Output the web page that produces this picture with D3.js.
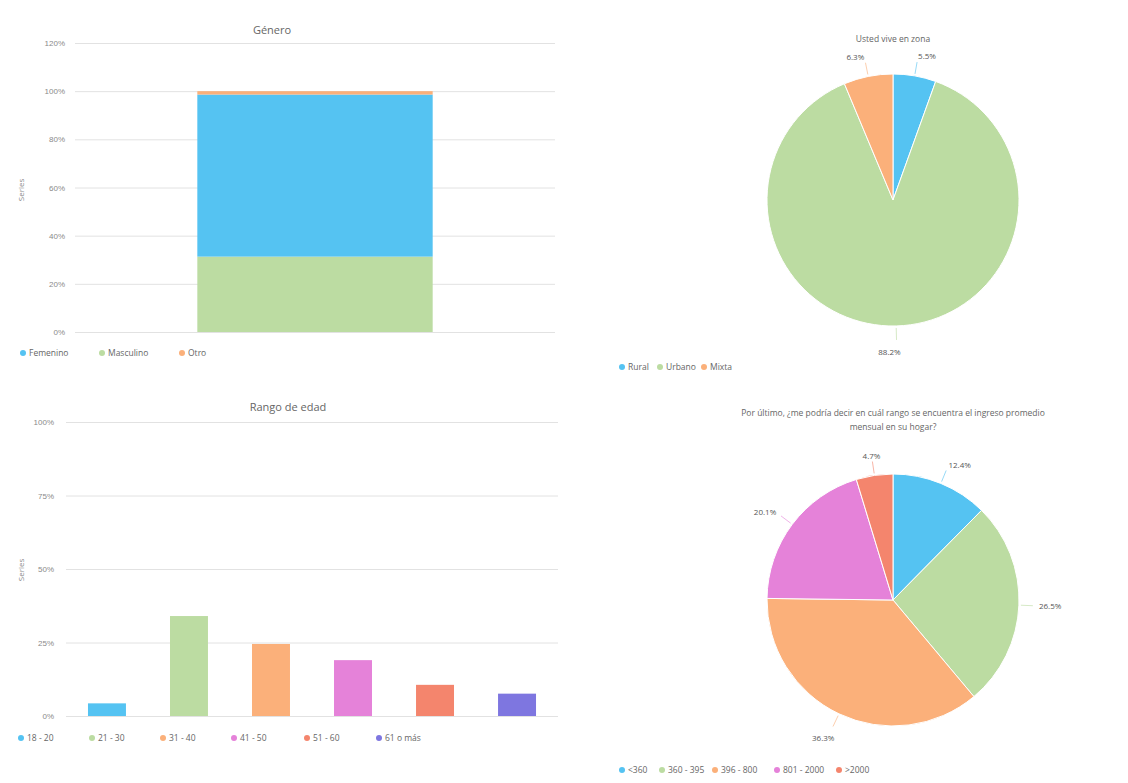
<!DOCTYPE html>
<html><head><meta charset="utf-8">
<script src="https://cdn.jsdelivr.net/npm/d3@7"></script>
<style>
html,body{margin:0;padding:0;background:#fff;}
svg{display:block;font-family:"Open Sans","Noto Sans",sans-serif;}
</style></head>
<body>
<svg id="c" width="1128" height="783"></svg>
<script>
// ---- data ----
const genderCategories = ["Género"];
const genderSeries = ["Femenino", "Masculino", "Otro"];
const genderValues = [0.673, 0.313, 0.014];
const genderTicks = [0, 0.2, 0.4, 0.6, 0.8, 1.0, 1.2];

const ageCategories = ["18 - 20", "21 - 30", "31 - 40", "41 - 50", "51 - 60", "61 o más"];
const ageValues = [0.043, 0.340, 0.245, 0.190, 0.106, 0.076];
const ageTicks = [0, 0.25, 0.5, 0.75, 1.0];

const zoneCategories = ["Rural", "Urbano", "Mixta"];
const zoneValues = [5.5, 88.2, 6.3];

const incomeCategories = ["<360", "360 - 395", "396 - 800", "801 - 2000", ">2000"];
const incomeValues = [12.4, 26.5, 36.3, 20.1, 4.7];

const palette = ["#55c3f2", "#bcdca2", "#fbb07a", "#e582d9", "#f4856d", "#7e76e0"];
const genderColors = {"Femenino": palette[0], "Masculino": palette[1], "Otro": palette[2]};

const svg = d3.select("#c");
const textCol = "#666", tickCol = "#8a8a8a", gridCol = "#e2e2e2";

function legend(g, items, colors, x0, y, gap) {
  let x = x0;
  items.forEach((it, i) => {
    const gi = g.append("g").attr("transform", `translate(${x},${y})`);
    gi.append("circle").attr("r", 3).attr("cx", 0).attr("cy", 0).attr("fill", colors[i]);
    const t = gi.append("text").attr("x", 6).attr("y", 3).attr("font-size", 8.5).attr("fill", textCol).text(it);
    x += (typeof gap === "number") ? gap : gap[i];
  });
}

// ---- Top-left: Género (stacked bar) ----
{
  const g = svg.append("g");
  const y = d3.scaleLinear().domain([0, 1.2]).range([332, 43]);
  const x = d3.scaleBand().domain(genderCategories).range([75, 555]).padding(0.342);
  g.append("text").attr("x", 272).attr("y", 34).attr("text-anchor", "middle")
    .attr("font-size", 11).attr("fill", textCol).text("Género");
  const ax = d3.axisLeft(y).tickValues(genderTicks).tickFormat(d3.format(".0%"))
    .tickSize(-480).tickPadding(10);
  const ag = g.append("g").attr("transform", "translate(75,0)").call(ax);
  ag.select(".domain").remove();
  ag.selectAll(".tick line").attr("stroke", gridCol);
  ag.selectAll(".tick text").attr("fill", tickCol).attr("font-size", 8);
  g.append("text").attr("transform", "translate(24,190) rotate(-90)").attr("text-anchor", "middle")
    .attr("font-size", 8).attr("fill", tickCol).text("Series");
  // stack: Masculino at bottom, then Femenino, then Otro
  const order = ["Masculino", "Femenino", "Otro"];
  const row = {cat: genderCategories[0]};
  genderSeries.forEach((s, i) => row[s] = genderValues[i]);
  const stack = d3.stack().keys(order)([row]);
  stack.forEach(layer => {
    g.append("rect")
      .attr("x", x(genderCategories[0]))
      .attr("width", x.bandwidth())
      .attr("y", y(layer[0][1]))
      .attr("height", y(layer[0][0]) - y(layer[0][1]))
      .attr("fill", genderColors[layer.key]);
  });
  legend(g, genderSeries, genderSeries.map(s => genderColors[s]), 23, 353, [79, 80, 60]);
}

// ---- Bottom-left: Rango de edad ----
{
  const g = svg.append("g");
  const y = d3.scaleLinear().domain([0, 1]).range([716, 422]);
  const x = d3.scaleBand().domain(ageCategories).range([66, 558]).paddingInner(0.537).paddingOuter(0.268);
  g.append("text").attr("x", 288).attr("y", 411).attr("text-anchor", "middle")
    .attr("font-size", 11).attr("fill", textCol).text("Rango de edad");
  const ax = d3.axisLeft(y).tickValues(ageTicks).tickFormat(d3.format(".0%"))
    .tickSize(-492).tickPadding(12);
  const ag = g.append("g").attr("transform", "translate(66,0)").call(ax);
  ag.select(".domain").remove();
  ag.selectAll(".tick line").attr("stroke", gridCol);
  ag.selectAll(".tick text").attr("fill", tickCol).attr("font-size", 8);
  g.append("text").attr("transform", "translate(24,570) rotate(-90)").attr("text-anchor", "middle")
    .attr("font-size", 8).attr("fill", tickCol).text("Series");
  g.selectAll("rect.bar").data(ageCategories).join("rect").attr("class", "bar")
    .attr("x", d => x(d)).attr("width", x.bandwidth())
    .attr("y", (d, i) => y(ageValues[i]))
    .attr("height", (d, i) => y(0) - y(ageValues[i]))
    .attr("fill", (d, i) => palette[i]);
  legend(g, ageCategories, palette, 21, 738, [71, 71, 71, 73, 72, 60]);
}

// ---- Pie helper ----
function pie(g, cx, cy, r, cats, vals, colors) {
  const arcs = d3.pie().sort(null).value(d => d)(vals);
  const arc = d3.arc().innerRadius(0).outerRadius(r);
  const pg = g.append("g").attr("transform", `translate(${cx},${cy})`);
  pg.selectAll("path").data(arcs).join("path").attr("d", arc)
    .attr("fill", (d, i) => colors[i]).attr("stroke", "#fff").attr("stroke-width", 1);
  arcs.forEach((a, i) => {
    const m = (a.startAngle + a.endAngle) / 2;
    const sx = Math.sin(m), sy = -Math.cos(m);
    pg.append("line")
      .attr("x1", sx * (r + 2)).attr("y1", sy * (r + 2))
      .attr("x2", sx * (r + 14)).attr("y2", sy * (r + 14))
      .attr("stroke", colors[i]).attr("stroke-width", 1).attr("opacity", 0.6);
    let anchor = sx > 0.15 ? "start" : (sx < -0.15 ? "end" : "middle");
    if (Math.abs(sx) <= 0.15 && sy > 0) anchor = "end";
    const lr = r + 20;
    pg.append("text")
      .attr("x", sx * lr + (anchor === "end" && sy > 0.9 ? 4 : 0))
      .attr("y", sy * lr + 3 + (sy > 0.9 ? 6 : 0))
      .attr("text-anchor", anchor).attr("font-size", 8).attr("fill", "#555")
      .text(d3.format(".1f")(vals[i]) + "%");
  });
}

// ---- Top-right: Usted vive en zona ----
{
  const g = svg.append("g");
  g.append("text").attr("x", 893).attr("y", 42).attr("text-anchor", "middle")
    .attr("font-size", 8.5).attr("fill", textCol).text("Usted vive en zona");
  pie(g, 893, 200, 126, zoneCategories, zoneValues, palette.slice(0, 3));
  legend(g, zoneCategories, palette.slice(0, 3), 622, 367, [38, 44, 40]);
}

// ---- Bottom-right: Ingreso ----
{
  const g = svg.append("g");
  const t = g.append("text").attr("text-anchor", "middle").attr("font-size", 8.5).attr("fill", textCol);
  t.append("tspan").attr("x", 893).attr("y", 416)
    .text("Por último, ¿me podría decir en cuál rango se encuentra el ingreso promedio");
  t.append("tspan").attr("x", 893).attr("y", 430).text("mensual en su hogar?");
  pie(g, 893, 600, 126, incomeCategories, incomeValues, palette.slice(0, 5));
  legend(g, incomeCategories, palette.slice(0, 5), 622, 770, [40, 53, 62, 62, 50]);
}
</script>
</body></html>
